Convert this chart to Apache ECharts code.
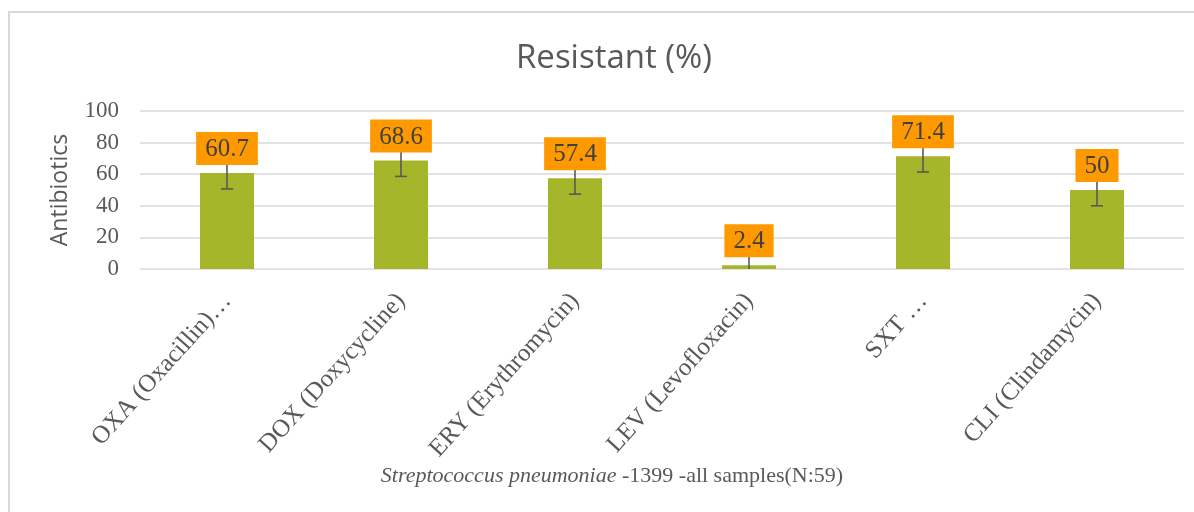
<!DOCTYPE html>
<html>
<head>
<meta charset="utf-8">
<title>Resistant (%)</title>
<script src="https://cdn.jsdelivr.net/npm/echarts@6/dist/echarts.min.js"></script>
<style>
  html, body { margin: 0; padding: 0; background: #fff; }
  #chart { width: 1194px; height: 512px; }
</style>
</head>
<body>
<div id="chart"></div>
<script>
// categories shown on the x axis (as printed, truncated ones included)
const categories = [
  "OXA (Oxacillin)…",
  "DOX (Doxycycline)",
  "ERY (Erythromycin)",
  "LEV (Levofloxacin)",
  "SXT …",
  "CLI (Clindamycin)"
];
// resistant percentage per antibiotic
const resistant = [60.7, 68.6, 57.4, 2.4, 71.4, 50];
// error bar size (+/-)
const errors = [10, 10, 10, 10, 10, 10];
const yTicks = { min: 0, max: 100, interval: 20 };

const serif = "'Liberation Serif', 'DejaVu Serif', serif";
const sans = "'Open Sans', 'Noto Sans', sans-serif";
const textGray = "#595959";

const chart = echarts.init(document.getElementById("chart"));

const errData = resistant.map((v, i) => [i, v - errors[i], v + errors[i]]);

const option = {
  animation: false,
  backgroundColor: "#fff",
  graphic: [
    {
      type: "rect",
      shape: { x: 9, y: 12, width: 1200, height: 520 },
      style: { fill: "none", stroke: "#d9d9d9", lineWidth: 2 },
      silent: true,
      z: -1
    }
  ],
  title: {
    text: "Resistant (%)",
    left: 511,
    top: 37,
    textStyle: { fontFamily: sans, fontSize: 33, fontWeight: "normal", color: textGray }
  },
  grid: { left: 140, right: 10, top: 111, bottom: 243 },
  xAxis: {
    type: "category",
    data: categories,
    axisLine: { show: false },
    axisTick: { show: false },
    axisLabel: {
      rotate: 48,
      interval: 0,
      margin: 28,
      fontFamily: serif,
      fontSize: 25,
      color: textGray
    },
    name: "{i|Streptococcus pneumoniae} -1399 -all samples(N:59)",
    nameLocation: "middle",
    nameGap: 191,
    nameTextStyle: {
      fontFamily: serif,
      fontSize: 22,
      color: textGray,
      padding: [0, 100, 0, 0],
      rich: {
        i: { fontFamily: serif, fontSize: 22, fontStyle: "italic", color: textGray }
      }
    }
  },
  yAxis: {
    type: "value",
    min: yTicks.min,
    max: yTicks.max,
    interval: yTicks.interval,
    axisLine: { show: false },
    axisTick: { show: false },
    splitLine: { lineStyle: { color: "#d9d9d9", width: 1.5 } },
    axisLabel: { margin: 21, fontFamily: serif, fontSize: 23, color: textGray },
    name: "Antibiotics",
    nameLocation: "middle",
    nameGap: 68,
    nameRotate: 90,
    nameTextStyle: { fontFamily: sans, fontSize: 23, color: textGray }
  },
  series: [
    {
      name: "Resistant",
      type: "bar",
      data: resistant,
      barWidth: 54,
      itemStyle: { color: "#a5b62a" },
      z: 2
    },
    {
      name: "Error",
      type: "custom",
      clip: true,
      data: errData,
      z: 3,
      renderItem: function (params, api) {
        const x = api.value(0);
        const lo = api.coord([x, api.value(1)]);
        const hi = api.coord([x, api.value(2)]);
        const half = 6;
        const style = { stroke: "#595959", lineWidth: 1.6 };
        return {
          type: "group",
          children: [
            { type: "line", shape: { x1: lo[0], y1: lo[1], x2: hi[0], y2: hi[1] }, style: style },
            { type: "line", shape: { x1: lo[0] - half, y1: lo[1], x2: lo[0] + half, y2: lo[1] }, style: style },
            { type: "line", shape: { x1: hi[0] - half, y1: hi[1], x2: hi[0] + half, y2: hi[1] }, style: style }
          ]
        };
      }
    },
    {
      // carries the data labels so they sit above the error bars
      name: "Labels",
      type: "bar",
      data: resistant,
      barWidth: 54,
      barGap: "-100%",
      itemStyle: { color: "rgba(0,0,0,0)" },
      z: 5,
      label: {
        show: true,
        position: "top",
        distance: 8,
        backgroundColor: "#ff9900",
        padding: [5, 9, 3, 9],
        fontFamily: serif,
        fontSize: 25,
        color: "#404040"
      }
    }
  ]
};

chart.setOption(option);
</script>
</body>
</html>
